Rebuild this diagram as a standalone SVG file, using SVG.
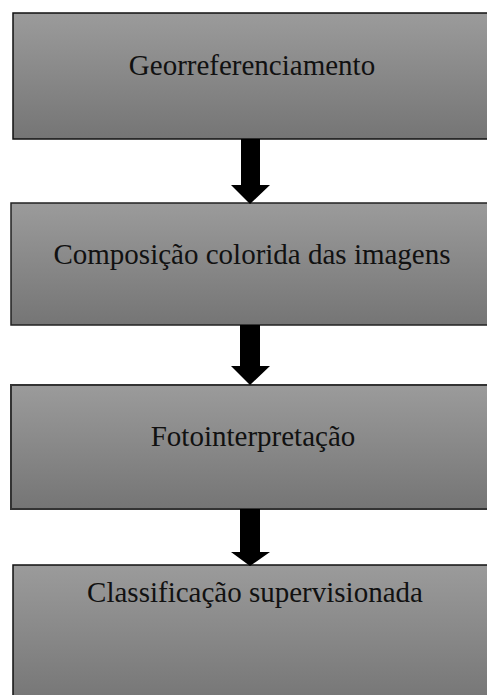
<svg xmlns="http://www.w3.org/2000/svg" width="487" height="695" viewBox="0 0 487 695">
<defs>
<linearGradient id="g" x1="0" y1="0" x2="0" y2="1">
<stop offset="0" stop-color="#9b9b9b"/>
<stop offset="1" stop-color="#757575"/>
</linearGradient>
<style>
.box{fill:url(#g);stroke:#111;stroke-width:1.5}
.lbl{font-family:"Liberation Serif","Times New Roman",serif;font-size:29px;fill:#111;text-anchor:middle}
.arr{fill:#000}
</style>
</defs>
<rect width="487" height="695" fill="#fff"/>
<g id="n1"><rect class="box" x="13" y="13" width="480" height="126"/><text class="lbl" x="252" y="75">Georreferenciamento</text></g>
<g id="n2"><rect class="box" x="11" y="203" width="482" height="122" style="stroke:#222"/><text class="lbl" x="252" y="264">Composição colorida das imagens</text></g>
<g id="n3"><rect class="box" x="11" y="385" width="482" height="124" style="stroke:#333;stroke-width:2"/><text class="lbl" x="253" y="446">Fotointerpretação</text></g>
<g id="n4"><rect class="box" x="13" y="565" width="480" height="140"/><text class="lbl" x="255" y="602">Classificação supervisionada</text></g>
<g id="connectors">
<polygon class="arr" points="241,139 260,139 260,185 270,185 250,204 231,185 241,185"/>
<polygon class="arr" points="240,325 260,325 260,366 270,366 250,385 231,366 240,366"/>
<polygon class="arr" points="240,509 260,509 260,552 270,552 250,566 231,552 240,552"/>
</g>
</svg>
